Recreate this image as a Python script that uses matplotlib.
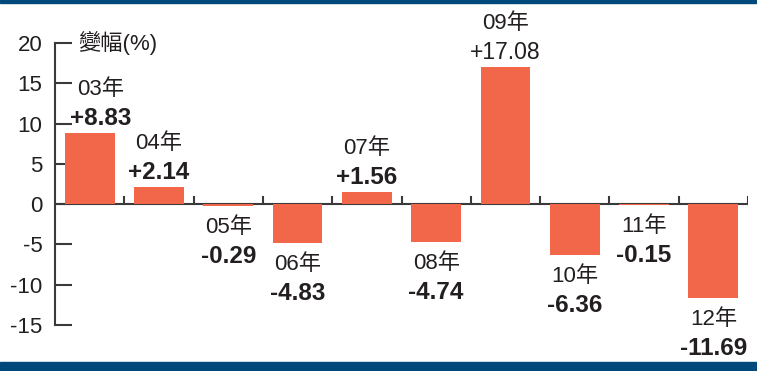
import matplotlib.pyplot as plt
from matplotlib.patches import Rectangle

plt.rcParams['font.family'] = ['Liberation Sans', 'Noto Sans CJK TC', 'DejaVu Sans']
plt.rcParams['axes.unicode_minus'] = False

# data
years = ['03年', '04年', '05年', '06年', '07年', '08年', '09年', '10年', '11年', '12年']
changes = [8.83, 2.14, -0.29, -4.83, 1.56, -4.74, 17.08, -6.36, -0.15, -11.69]
value_labels = ['+8.83', '+2.14', '-0.29', '-4.83', '+1.56', '-4.74', '+17.08', '-6.36', '-0.15', '-11.69']
bold_flags = [True, True, True, True, True, True, False, True, True, True]
yticks = [-15, -10, -5, 0, 5, 10, 15, 20]

bar_color = '#f26649'
text_color = '#231f20'
navy = '#00497a'

W, H = 757, 371
fig = plt.figure(figsize=(W / 100, H / 100), dpi=100)
ax = fig.add_axes([55 / W, (H - 325) / H, 693 / W, 282 / H])

x = list(range(len(changes)))

# zero line + small ticks between categories (bars sit on top)
ax.axhline(0, color='#3a3a3a', lw=1.5, zorder=1)
for b in range(1, len(changes) + 1):
    ax.plot([b - 0.5, b - 0.5], [0, 0.9], color='#3a3a3a', lw=1.5, zorder=1)

ax.bar(x, changes, width=0.72, color=bar_color, zorder=2)

# labels
for i, v in enumerate(changes):
    if bold_flags[i]:
        w, vs = 'bold', 17.5
    else:
        w, vs = 'normal', 16.5
    dx = 11 if i == 0 else 0   # first label pushed right, clear of the axis
    if v >= 0:
        ax.annotate(value_labels[i], (i, v), xytext=(dx, 14), textcoords='offset pixels',
                    ha='center', va='center', fontsize=vs, fontweight=w, color=text_color)
        ax.annotate(years[i], (i, v), xytext=(dx, 43), textcoords='offset pixels',
                    ha='center', va='center', fontsize=16, color=text_color)
    else:
        ax.annotate(years[i], (i, v), xytext=(dx, -21), textcoords='offset pixels',
                    ha='center', va='center', fontsize=16, color=text_color)
        ax.annotate(value_labels[i], (i, v), xytext=(dx, -50), textcoords='offset pixels',
                    ha='center', va='center', fontsize=vs, fontweight=w, color=text_color)

ax.text(-0.17, 20, '變幅(%)', ha='left', va='center', fontsize=16, color=text_color)

ax.set_xlim(-0.5, len(changes) - 0.5)
ax.set_ylim(-15, 20)
ax.set_yticks(yticks)
ax.set_xticks([])
ax.tick_params(axis='y', direction='in', length=12.5, width=1.5, color='#3a3a3a',
               labelsize=16, labelcolor=text_color, pad=9)
for s in ['top', 'right', 'bottom']:
    ax.spines[s].set_visible(False)
ax.spines['left'].set_color('#3a3a3a')
ax.spines['left'].set_linewidth(1.5)
ax.patch.set_alpha(0)

# blue frame bands
fig.patches.append(Rectangle((0, 1 - 3 / H), 1, 3 / H, transform=fig.transFigure, color=navy))
fig.patches.append(Rectangle((0, 0), 1, 9 / H, transform=fig.transFigure, color=navy))

fig.savefig('out.png', dpi=100)
